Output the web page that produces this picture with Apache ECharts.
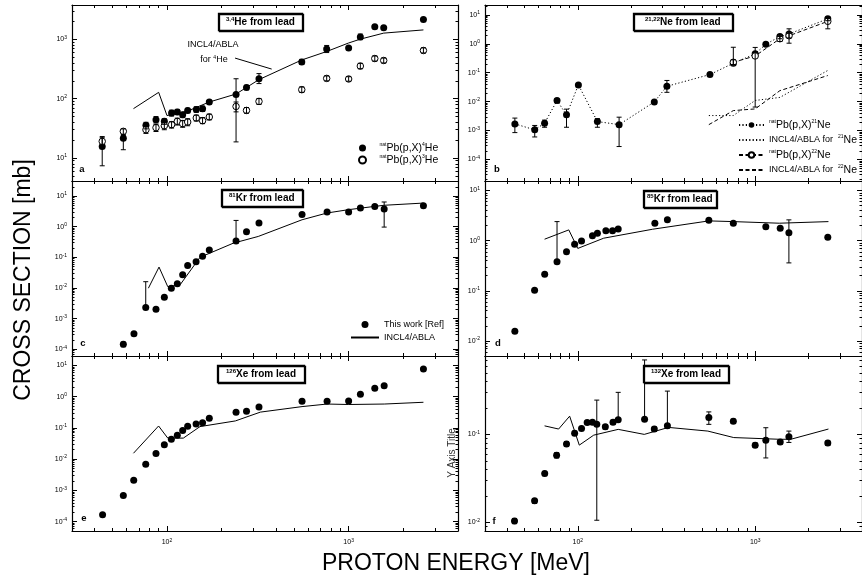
<!DOCTYPE html>
<html>
<head>
<meta charset="utf-8">
<script src="https://cdn.jsdelivr.net/npm/echarts@6/dist/echarts.min.js"></script>
<style>
  html, body { margin: 0; padding: 0; background: #fff; }
  #chart { width: 862px; height: 578px; }
</style>
</head>
<body>
<div id="chart"></div>
<script>
// ---- data ----
// a: 3,4He
var heE   = [44, 57.5, 76.6, 87, 96.7, 106, 114, 122, 130, 145, 157, 171, 240, 274, 321, 552, 757, 1000, 1160, 1393, 1560, 2581];
var he4   = [15.7, 21.5, 35.6, 44.3, 41.5, 57.4, 59.7, 53.7, 63.5, 66, 68, 88, 118, 155, 217, 415, 687, 714, 1095, 1630, 1567, 2163];
var he4Lo = [7.4, 13.8, 31, 39, 37, 51, 54, 48, 58, 59, 61, 82, 18.7, 142, 180, 380, 600, 714, 990, 1630, 1567, 2163];
var he4Hi = [23, 24, 40, 50, 46, 64, 66, 58, 69, 73, 75, 94, 217, 168, 265, 460, 790, 714, 1230, 1630, 1567, 2163];
var he3   = [19.1, 28.2, 30, 32.5, 35, 36.5, 41.5, 38, 40.5, 47.3, 42.6, 49.2, 74, 63.5, 90, 142, 220, 215, 355, 476, 441, 650];
var he3Lo = [16, 25, 26, 28, 30, 32, 36, 33, 35, 42, 38, 44, 60, 57, 80, 128, 200, 197, 320, 430, 400, 590];
var he3Hi = [22, 31, 34, 37, 40, 41, 47, 43, 46, 53, 48, 55, 88, 71, 101, 158, 242, 235, 395, 525, 485, 720];
var heModE = [65.4, 90, 100, 130, 171, 240, 321, 552, 757, 1000, 1160, 1560, 2581];
var heMod  = [68, 128, 52, 62, 88, 120, 210, 450, 625, 870, 1010, 1276, 1445];

// b: 21,22Ne
var ne21E  = [44.2, 57.2, 65, 76.4, 86.4, 100.8, 129, 171, 270, 318, 556, 753, 1000, 1148, 1378, 1552, 2566];
var ne21   = [1.7e-3, 1.06e-3, 1.8e-3, 0.0109, 3.5e-3, 0.038, 2.05e-3, 1.6e-3, 9.8e-3, 0.034, 0.0866, 0.213, 0.45, 0.97, 1.78, 2.2, 7.3];
var ne21Lo = [8.5e-4, 6e-4, 1.3e-3, 0.0095, 1.3e-3, 0.034, 1.3e-3, 2.8e-4, 9.8e-3, 0.021, 0.0866, 0.19, 0.45, 0.97, 1.5, 1.05, 6.3];
var ne21Hi = [2.7e-3, 1.5e-3, 2.3e-3, 0.0125, 5.5e-3, 0.042, 2.6e-3, 2.9e-3, 9.8e-3, 0.054, 0.0866, 0.76, 0.45, 0.97, 2.1, 3.3, 8.5];
var ne22E  = [753, 1000, 1378, 1552, 2566];
var ne22   = [0.23, 0.38, 1.5, 1.9, 6.0];
var ne22Lo = [0.19, 0.0065, 1.2, 1.6, 3.3];
var ne22Hi = [0.28, 0.75, 1.8, 2.3, 7.5];
var neMod21E = [548, 753, 1000, 1378, 2566];
var neMod21  = [3.3e-3, 3.3e-3, 0.011, 0.014, 0.12];
var neMod22E = [548, 753, 1000, 1378, 2566];
var neMod22  = [1.6e-3, 4.9e-3, 5.6e-3, 0.024, 0.08];

// c: 81Kr
var kr81E  = [57.5, 65.8, 76.4, 87, 96.7, 105.7, 114, 122, 130, 144.6, 157, 171, 240, 274, 321, 554, 761, 1000, 1161, 1393, 1569, 2581];
var kr81   = [1.45e-4, 3.2e-4, 2.3e-3, 2.0e-3, 5.0e-3, 9.8e-3, 0.0136, 0.0268, 0.054, 0.071, 0.109, 0.172, 0.338, 0.68, 1.31, 2.5, 3.0, 3.0, 4.05, 4.6, 3.76, 4.8];
var kr81Lo = [1.2e-4, 3.2e-4, 2.1e-3, 2.0e-3, 5.0e-3, 9.8e-3, 0.0136, 0.0268, 0.054, 0.071, 0.109, 0.172, 0.3, 0.68, 1.31, 2.5, 3.0, 3.0, 4.05, 4.6, 0.97, 4.8];
var kr81Hi = [1.7e-4, 3.2e-4, 0.016, 2.0e-3, 5.0e-3, 9.8e-3, 0.0136, 0.0268, 0.054, 0.071, 0.109, 0.172, 1.6, 0.68, 1.31, 2.5, 3.0, 3.0, 4.05, 4.6, 6.4, 4.8];
var kr81ModE = [79, 90.4, 101, 118, 152, 232, 318, 554, 761, 1000, 1393, 1570, 2581];
var kr81Mod  = [0.0098, 0.048, 0.011, 0.0126, 0.10, 0.29, 0.48, 1.68, 2.8, 3.6, 4.6, 5.0, 5.9];

// d: 85Kr
var kr85E  = [44.2, 57.1, 65.1, 76.4, 86.4, 96, 105, 121, 129, 144, 157, 169, 272, 320, 548, 753, 1148, 1384, 1549, 2566];
var kr85   = [0.0156, 0.103, 0.213, 0.38, 0.60, 0.85, 0.99, 1.26, 1.4, 1.58, 1.58, 1.71, 2.23, 2.6, 2.56, 2.23, 1.9, 1.77, 1.44, 1.17];
var kr85Lo = [0.0156, 0.103, 0.213, 0.38, 0.60, 0.85, 0.99, 1.26, 1.4, 1.58, 1.58, 1.71, 2.23, 2.6, 2.56, 2.23, 1.9, 1.77, 0.36, 1.17];
var kr85Hi = [0.0156, 0.103, 0.213, 2.4, 0.60, 0.85, 0.99, 1.26, 1.4, 1.58, 1.58, 1.71, 2.23, 2.6, 2.56, 2.23, 1.9, 1.77, 2.6, 1.17];
var kr85ModE = [65, 89, 100, 140, 264, 548, 753, 1367, 2588];
var kr85Mod  = [1.07, 1.64, 0.70, 1.12, 1.69, 2.48, 2.4, 2.23, 2.4];

// e: 126Xe
var xe126E = [44.2, 57.5, 65.6, 76.4, 87, 96.7, 105.7, 114, 122, 130, 144.6, 157, 171, 240, 274, 321, 554, 761, 1000, 1161, 1393, 1569, 2581];
var xe126  = [1.67e-4, 6.8e-4, 2.1e-3, 6.9e-3, 0.015, 0.029, 0.043, 0.058, 0.082, 0.113, 0.134, 0.147, 0.204, 0.316, 0.34, 0.47, 0.71, 0.71, 0.73, 1.19, 1.86, 2.25, 7.7];
var xe126ModE = [65.4, 89.9, 101, 123, 152, 238, 327, 554, 761, 1000, 1570, 2581];
var xe126Mod  = [0.0154, 0.115, 0.047, 0.047, 0.11, 0.167, 0.32, 0.48, 0.58, 0.56, 0.58, 0.66];

// f: 132Xe
var xe132E  = [44, 57.1, 65.1, 76, 86.4, 96, 105, 113, 121, 128, 143, 158, 169, 238, 270, 320, 548, 753, 1000, 1148, 1384, 1549, 2566];
var xe132   = [0.0104, 0.0176, 0.036, 0.058, 0.078, 0.103, 0.117, 0.136, 0.137, 0.130, 0.122, 0.137, 0.147, 0.149, 0.115, 0.125, 0.155, 0.141, 0.0755, 0.086, 0.082, 0.094, 0.0796];
var xe132Lo = [0.0097, 0.0165, 0.034, 0.054, 0.073, 0.097, 0.111, 0.130, 0.131, 0.0106, 0.115, 0.130, 0.140, 0.149, 0.108, 0.118, 0.13, 0.133, 0.071, 0.054, 0.078, 0.081, 0.075];
var xe132Hi = [0.0111, 0.0187, 0.038, 0.062, 0.083, 0.109, 0.123, 0.142, 0.143, 0.245, 0.129, 0.145, 0.30, 0.70, 0.122, 0.31, 0.18, 0.149, 0.080, 0.119, 0.086, 0.109, 0.084];
var xe132ModE = [65, 78, 90, 102, 123, 169, 237, 325, 541, 757, 1367, 1588, 2588];
var xe132Mod  = [0.125, 0.115, 0.161, 0.0755, 0.098, 0.114, 0.10, 0.12, 0.109, 0.092, 0.088, 0.088, 0.115];

// axis ticks
var xMajor = [100, 1000];
var xMinor = [40, 50, 60, 70, 80, 90, 200, 300, 400, 500, 600, 700, 800, 900, 2000, 3000];

var FONT = 'Liberation Sans, Arial, Helvetica, sans-serif';
var chart = echarts.init(document.getElementById('chart'));

// panel frames
var panels = [
    {left: 72,  top: 5,   h: 176, ymin: 4.1,    ymax: 3800,  xlab: false},
    {left: 485, top: 5,   h: 176, ymin: 1.8e-5, ymax: 22,    xlab: false},
    {left: 72,  top: 181, h: 175, ymin: 6e-5,   ymax: 31,    xlab: false},
    {left: 485, top: 181, h: 175, ymin: 0.005,  ymax: 15.5,  xlab: false},
    {left: 72,  top: 356, h: 175, ymin: 5e-5,   ymax: 20,    xlab: true},
    {left: 485, top: 356, h: 175, ymin: 0.008,  ymax: 0.776, xlab: true}
];

function decades(min, max) {
    var out = [];
    for (var k = Math.floor(Math.log10(min)); k <= Math.ceil(Math.log10(max)); k++) {
        var v = Math.pow(10, k);
        if (v >= min && v <= max) out.push(v);
    }
    return out;
}
function minors(min, max) {
    var out = [];
    for (var k = Math.floor(Math.log10(min)); k <= Math.ceil(Math.log10(max)); k++) {
        for (var m = 2; m <= 9; m++) {
            var v = m * Math.pow(10, k);
            if (v >= min && v <= max) out.push(v);
        }
    }
    return out;
}
function pow10(v) {
    return '10{s|' + Math.round(Math.log10(v)) + '}';
}
var supRich = {s: {fontSize: 5, fontFamily: FONT, color: '#000', verticalAlign: 'top', lineHeight: 6}};

function axis(gi, pos, min, max, ticks, len, line, labels, margin) {
    return {
        type: 'log', logBase: 10, gridIndex: gi, position: pos, min: min, max: max,
        axisLine: {show: line, onZero: false, lineStyle: {color: '#000', width: 1.2}},
        axisTick: {show: true, inside: true, length: len, customValues: ticks, lineStyle: {color: '#000', width: 1}},
        axisLabel: {show: !!labels, customValues: labels || undefined, formatter: pow10, margin: margin,
            color: '#000', fontSize: 7, fontFamily: FONT, lineHeight: 9, rich: supRich},
        splitLine: {show: false}, minorTick: {show: false}, minorSplitLine: {show: false}
    };
}

var grids = [], xAxes = [], yAxes = [];
panels.forEach(function (p, gi) {
    grids.push({left: p.left, top: p.top, width: 386, height: p.h, containLabel: false});
    xAxes.push(axis(gi, 'bottom', 30, 4000, xMajor, 5, true, p.xlab ? xMajor : null, 7));
    xAxes.push(axis(gi, 'bottom', 30, 4000, xMinor, 3, false, null, 7));
    xAxes.push(axis(gi, 'top', 30, 4000, xMajor, 5, true, null, 7));
    xAxes.push(axis(gi, 'top', 30, 4000, xMinor, 3, false, null, 7));
    var dec = decades(p.ymin, p.ymax), mn = minors(p.ymin, p.ymax);
    yAxes.push(axis(gi, 'left', p.ymin, p.ymax, dec, 5, true, dec, 5));
    yAxes.push(axis(gi, 'left', p.ymin, p.ymax, mn, 2.5, false, null, 5));
    yAxes.push(axis(gi, 'right', p.ymin, p.ymax, dec, 5, true, null, 5));
    yAxes.push(axis(gi, 'right', p.ymin, p.ymax, mn, 2.5, false, null, 5));
});

function pairs(xs, ys) {
    return xs.map(function (x, i) { return [x, ys[i]]; });
}
function dots(gi, name, xs, ys, open) {
    return {
        type: 'scatter', name: name, xAxisIndex: gi * 4, yAxisIndex: gi * 4,
        data: pairs(xs, ys), symbol: 'circle', symbolSize: open ? 6.5 : 7, z: 3,
        itemStyle: open ? {color: '#fff', borderColor: '#000', borderWidth: 1, opacity: 1}
                        : {color: '#000', opacity: 1}
    };
}
function model(gi, name, xs, ys, dash) {
    return {
        type: 'line', name: name, xAxisIndex: gi * 4, yAxisIndex: gi * 4,
        data: pairs(xs, ys), symbol: 'none', z: 2,
        lineStyle: {color: '#000', width: 1, type: dash || 'solid'},
        itemStyle: {color: '#000'}
    };
}
function errBars(gi, xs, lo, hi) {
    var d = [];
    xs.forEach(function (x, i) { if (lo[i] !== hi[i]) d.push([x, lo[i], hi[i]]); });
    return {
        type: 'custom', xAxisIndex: gi * 4, yAxisIndex: gi * 4, z: 4, silent: true,
        data: d, encode: {x: 0, y: [1, 2]},
        renderItem: function (params, api) {
            var a = api.coord([api.value(0), api.value(1)]);
            var b = api.coord([api.value(0), api.value(2)]);
            var w = 2.5, st = {stroke: '#000', lineWidth: 1};
            return {type: 'group', children: [
                {type: 'line', shape: {x1: a[0], y1: a[1], x2: b[0], y2: b[1]}, style: st},
                {type: 'line', shape: {x1: a[0] - w, y1: a[1], x2: a[0] + w, y2: a[1]}, style: st},
                {type: 'line', shape: {x1: b[0] - w, y1: b[1], x2: b[0] + w, y2: b[1]}, style: st}
            ]};
        }
    };
}

var heModel = model(0, 'He4 model', heModE, heMod);
heModel.markLine = {
    silent: true, symbol: ['none', 'none'], label: {show: false},
    lineStyle: {color: '#000', width: 1, type: 'solid'},
    data: [[{coord: [237, 484]}, {coord: [377, 316]}]]
};

var ne21Line = {
    type: 'line', name: 'Ne21', xAxisIndex: 4, yAxisIndex: 4, data: pairs(ne21E, ne21),
    symbol: 'circle', symbolSize: 7, showSymbol: true, z: 3,
    lineStyle: {color: '#000', width: 1, type: [1.2, 2.2]}, itemStyle: {color: '#000'}
};
var ne22Line = {
    type: 'line', name: 'Ne22', xAxisIndex: 4, yAxisIndex: 4, data: pairs(ne22E, ne22),
    symbol: 'circle', symbolSize: 6.5, showSymbol: true, z: 3,
    lineStyle: {color: '#000', width: 1, type: [4, 2.5]},
    itemStyle: {color: '#fff', borderColor: '#000', borderWidth: 1}
};

var series = [
    heModel,
    dots(0, 'He4', heE, he4, false),
    dots(0, 'He3', heE, he3, true),
    errBars(0, heE, he4Lo, he4Hi),
    errBars(0, heE, he3Lo, he3Hi),

    model(1, 'M21', neMod21E, neMod21, [1.2, 2.2]),
    model(1, 'M22', neMod22E, neMod22, [4, 2.5]),
    ne21Line, ne22Line,
    errBars(1, ne21E, ne21Lo, ne21Hi),
    errBars(1, ne22E, ne22Lo, ne22Hi),

    model(2, 'INCL4/ABLA', kr81ModE, kr81Mod),
    dots(2, 'This work [Ref]', kr81E, kr81, false),
    errBars(2, kr81E, kr81Lo, kr81Hi),

    model(3, 'Kr85 model', kr85ModE, kr85Mod),
    dots(3, 'Kr85', kr85E, kr85, false),
    errBars(3, kr85E, kr85Lo, kr85Hi),

    model(4, 'Xe126 model', xe126ModE, xe126Mod),
    dots(4, 'Xe126', xe126E, xe126, false),

    model(5, 'Xe132 model', xe132ModE, xe132Mod),
    dots(5, 'Xe132', xe132E, xe132, false),
    errBars(5, xe132E, xe132Lo, xe132Hi)
];

var legendNames = {
    'He4': '{s|nat}{p|Pb(p,X)}{s|4}{p|He}',
    'He3': '{s|nat}{p|Pb(p,X)}{s|3}{p|He}',
    'Ne21': '{s|nat}{p|Pb(p,X)}{s|21}{p|Ne}',
    'M21': 'INCL4/ABLA for  {s|21}{p|Ne}',
    'Ne22': '{s|nat}{p|Pb(p,X)}{s|22}{p|Ne}',
    'M22': 'INCL4/ABLA for  {s|22}{p|Ne}',
    'This work [Ref]': 'This work [Ref]',
    'INCL4/ABLA': 'INCL4/ABLA'
};
var legRich = {
    s: {fontSize: 5, fontFamily: FONT, color: '#000', verticalAlign: 'top', lineHeight: 6},
    p: {fontSize: 10.5, fontFamily: FONT, color: '#000', lineHeight: 12}
};
function legend(left, top, names, w, gap) {
    return {
        left: left, top: top, orient: 'vertical', itemWidth: w, itemHeight: 7, itemGap: gap,
        selectedMode: false, padding: 0,
        data: names.map(function (n) {
            // model lines: show only the line in the key
            return (n.charAt(0) === 'M' || n === 'INCL4/ABLA') ? {name: n, itemStyle: {opacity: 0}} : {name: n};
        }),
        formatter: function (n) { return legendNames[n]; },
        textStyle: {fontFamily: FONT, fontSize: 9, color: '#000', lineHeight: 11, rich: legRich}
    };
}

var boxRich = {s: {fontSize: 6, fontWeight: 'bold', fontFamily: FONT, color: '#000', verticalAlign: 'top', lineHeight: 7}};
function box(left, top, text, padX) {
    return {
        left: left, top: top, text: text, padding: [3, padX, 3, padX], itemGap: 0,
        backgroundColor: '#fff', borderColor: '#000', borderWidth: 1.3,
        shadowColor: '#000', shadowOffsetX: 1, shadowOffsetY: 1, shadowBlur: 0.1,
        textStyle: {fontFamily: FONT, fontSize: 10, fontWeight: 'bold', color: '#000', lineHeight: 12, rich: boxRich}
    };
}

function label(x, y, text, size, bold, rot, color) {
    return {
        type: 'text', x: x, y: y, rotation: rot || 0, silent: true, z: 10,
        style: {text: text, fill: color || '#000', font: (bold ? 'bold ' : '') + size + 'px ' + FONT,
            align: 'center', verticalAlign: 'middle', rich: legRich}
    };
}

var option = {
    backgroundColor: '#fff',
    animation: false,
    grid: grids,
    xAxis: xAxes,
    yAxis: yAxes,
    title: [
        box(218, 13, '{s|3,4}He from lead', 8),
        box(633, 13, '{s|21,22}Ne from lead', 12),
        box(221, 189, '{s|81}Kr from lead', 8),
        box(643, 190, '{s|85}Kr from lead', 4),
        box(217, 365, '{s|126}Xe from lead', 9),
        box(643, 365, '{s|132}Xe from lead', 8)
    ],
    legend: [
        legend(358, 142, ['He4', 'He3'], 24, 0),
        legend(738, 119, ['Ne21', 'M21', 'Ne22', 'M22'], 25, 3),
        legend(350, 319, ['This work [Ref]', 'INCL4/ABLA'], 28, 2)
    ],
    graphic: [
        label(456, 564, 'PROTON ENERGY [MeV]', 23, false),
        label(24, 280, 'CROSS SECTION [mb]', 23, false, Math.PI / 2),
        label(452, 453, 'Y Axis Title', 10, false, Math.PI / 2, '#333'),
        label(213, 45, 'INCL4/ABLA', 9, false),
        label(214, 60, 'for {s|4}He', 9, false),
        label(82, 169, 'a', 9.5, true),
        label(497, 169, 'b', 9.5, true),
        label(83, 343, 'c', 9.5, true),
        label(498, 343, 'd', 9.5, true),
        label(84, 518, 'e', 9.5, true),
        label(494, 521, 'f', 9.5, true)
    ],
    series: series
};

chart.setOption(option);
window.onresize = function () {
    chart.resize();
};
</script>
</body>
</html>
